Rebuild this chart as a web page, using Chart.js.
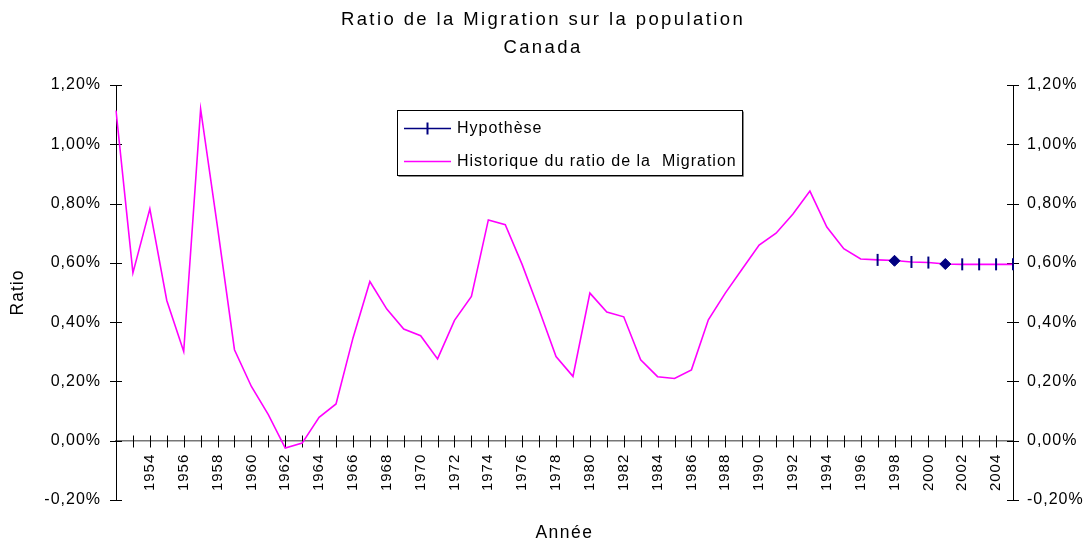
<!DOCTYPE html>
<html lang="fr">
<head>
<meta charset="utf-8">
<title>Ratio de la Migration sur la population - Canada</title>
<script src="https://cdn.jsdelivr.net/npm/chart.js@4.4.1/dist/chart.umd.min.js"></script>
<style>
  html, body { margin: 0; padding: 0; background: #fff; }
  canvas { display: block; }
</style>
</head>
<body>
<canvas id="graphMigration" width="1086" height="544"></canvas>
<script>
// annees du graphique
const annees = [
  1952, 1953, 1954, 1955, 1956, 1957, 1958, 1959, 1960, 1961,
  1962, 1963, 1964, 1965, 1966, 1967, 1968, 1969, 1970, 1971,
  1972, 1973, 1974, 1975, 1976, 1977, 1978, 1979, 1980, 1981,
  1982, 1983, 1984, 1985, 1986, 1987, 1988, 1989, 1990, 1991,
  1992, 1993, 1994, 1995, 1996, 1997, 1998, 1999, 2000, 2001,
  2002, 2003, 2004, 2005
];

// ratio historique (en %)
const historique = [
  1.114, 0.566, 0.782, 0.473, 0.301, 1.119, 0.720, 0.307, 0.183, 0.088,
  -0.025, -0.008, 0.079, 0.124, 0.346, 0.537, 0.444, 0.377, 0.354, 0.276,
  0.406, 0.487, 0.745, 0.729, 0.594, 0.442, 0.284, 0.217, 0.498, 0.434,
  0.418, 0.273, 0.216, 0.210, 0.239, 0.408, 0.498, 0.579, 0.660, 0.700,
  0.765, 0.842, 0.721, 0.648, 0.613, 0.610, 0.608, 0.603, 0.601, 0.596,
  0.595, 0.595, 0.595, 0.595
];

// hypothese (en %), a partir de 1997
const hypothese = [
  null, null, null, null, null, null, null, null, null, null,
  null, null, null, null, null, null, null, null, null, null,
  null, null, null, null, null, null, null, null, null, null,
  null, null, null, null, null, null, null, null, null, null,
  null, null, null, null, null, 0.610, 0.607, 0.603, 0.601, 0.596,
  0.595, 0.595, 0.595, 0.595
];

// points marques d'un losange
const anneesLosange = [1998, 2001];

// graduations de l'axe y
const yMin = -0.2;
const yMax = 1.2;
const yPas = 0.2;

const police = "'Liberation Sans', Arial, sans-serif";
const marine = '#000080';
const rose = '#ff00ff';

function formatPct(v) {
  if (Math.abs(v) < 1e-9) v = 0;
  return v.toFixed(2).replace('.', ',') + '%';
}

function estLosange(c) {
  return anneesLosange.includes(annees[c.dataIndex]);
}

// espacement des lettres facon Excel
const espacementTexte = {
  id: 'espacementTexte',
  beforeUpdate(chart) {
    chart.ctx.letterSpacing = '1px';
  },
  beforeDraw(chart) {
    chart.ctx.letterSpacing = '1px';
    chart.boxes.forEach(box => {
      if (box.axis || box._espace) return;
      const esp = box === chart.titleBlock ? '2.4px' : '1.5px';
      const dessin = box.draw;
      box.draw = function(area) {
        const ctx = chart.ctx;
        const avant = ctx.letterSpacing;
        ctx.letterSpacing = esp;
        dessin.call(this, area);
        ctx.letterSpacing = avant;
      };
      box._espace = true;
    });
  }
};

// petites graduations qui traversent les axes
const graduations = {
  id: 'graduations',
  beforeDatasetsDraw(chart) {
    const { ctx, scales, chartArea } = chart;
    const y0 = Math.round(scales.y.getPixelForValue(0)) + 0.5;
    ctx.save();
    ctx.strokeStyle = '#000';
    ctx.lineWidth = 1;
    ctx.beginPath();
    scales.x.ticks.forEach((t, i) => {
      const px = Math.round(scales.x.getPixelForTick(i)) + 0.5;
      ctx.moveTo(px, y0 - 6);
      ctx.lineTo(px, y0 + 6);
    });
    [[scales.y, chartArea.left], [scales.y2, chartArea.right]].forEach(([s, ax]) => {
      s.ticks.forEach((t, i) => {
        const py = Math.round(s.getPixelForTick(i)) + 0.5;
        ctx.moveTo(Math.round(ax) - 6, py);
        ctx.lineTo(Math.round(ax) + 6, py);
      });
    });
    ctx.stroke();
    ctx.restore();
  }
};

// legende encadree a l'interieur du graphique
const legendeEncadree = {
  id: 'legendeEncadree',
  afterDraw(chart) {
    const ctx = chart.ctx;
    const ds = chart.data.datasets;
    const bx = 397.5, by = 110.5, bw = 345, bh = 65;
    ctx.save();
    ctx.fillStyle = '#fff';
    ctx.fillRect(bx, by, bw, bh);
    ctx.strokeStyle = '#000';
    ctx.lineWidth = 1;
    ctx.strokeRect(bx, by, bw, bh);
    ctx.strokeStyle = '#888';
    ctx.beginPath();
    ctx.moveTo(bx + 1, by + bh + 1);
    ctx.lineTo(bx + bw + 1, by + bh + 1);
    ctx.lineTo(bx + bw + 1, by + 1);
    ctx.stroke();

    const lignes = [
      { y: 128.5, couleur: marine, marque: true, texte: ds[0].label },
      { y: 161.5, couleur: rose, marque: false, texte: ds[1].label }
    ];
    ctx.font = '16px ' + police;
    ctx.letterSpacing = '1px';
    ctx.textBaseline = 'middle';
    lignes.forEach(l => {
      ctx.strokeStyle = l.couleur;
      ctx.lineWidth = 1.5;
      ctx.beginPath();
      ctx.moveTo(404, l.y);
      ctx.lineTo(451, l.y);
      ctx.stroke();
      if (l.marque) {
        ctx.lineWidth = 2;
        ctx.beginPath();
        ctx.moveTo(427.5, l.y - 6);
        ctx.lineTo(427.5, l.y + 6);
        ctx.stroke();
      }
      ctx.fillStyle = '#000';
      ctx.fillText(l.texte, 457, l.y);
    });
    ctx.restore();
  }
};

const ctx = document.getElementById('graphMigration').getContext('2d');

const graphMigration = new Chart(ctx, {
  type: 'line',
  data: {
    labels: annees,
    datasets: [
      {
        label: 'Hypothèse',
        data: hypothese,
        order: 0,
        showLine: false,
        clip: false,
        borderColor: marine,
        backgroundColor: marine,
        pointStyle: c => estLosange(c) ? 'rectRot' : 'line',
        pointRotation: c => estLosange(c) ? 0 : 90,
        pointRadius: c => estLosange(c) ? 5.5 : 6,
        pointBorderWidth: c => estLosange(c) ? 1 : 2,
        pointBorderColor: marine,
        pointBackgroundColor: marine
      },
      {
        label: 'Historique du ratio de la  Migration',
        data: historique,
        order: 1,
        borderColor: rose,
        backgroundColor: rose,
        borderWidth: 1.6,
        pointRadius: 0,
        tension: 0
      }
    ]
  },
  options: {
    responsive: false,
    animation: false,
    devicePixelRatio: 1,
    layout: { padding: 0 },
    plugins: {
      legend: { display: false },
      tooltip: { enabled: false },
      title: {
        display: true,
        text: ['Ratio de la Migration sur la population', 'Canada'],
        color: '#000',
        font: { family: police, size: 18.5, weight: 'normal', lineHeight: 1.5 },
        padding: { top: 6.5, bottom: 23 }
      },
      subtitle: {
        display: true,
        position: 'bottom',
        fullSize: false,
        text: 'Année',
        color: '#000',
        font: { family: police, size: 17.5, weight: 'normal', lineHeight: 1.2 },
        padding: { top: 23, bottom: 0 }
      }
    },
    scales: {
      x: {
        type: 'category',
        position: { y: 0 },
        offset: false,
        grid: { display: true, drawOnChartArea: false, drawTicks: false },
        border: { display: true, color: '#777', width: 1.5 },
        ticks: {
          autoSkip: false,
          minRotation: 90,
          maxRotation: 90,
          padding: 13,
          color: '#000',
          font: { family: police, size: 15 },
          callback: function(v, i) {
            const an = annees[i];
            return (an % 2 === 0 && an !== annees[0]) ? String(an) : '';
          }
        },
        afterFit: s => { s.height = 0; }
      },
      y: {
        position: 'left',
        min: yMin,
        max: yMax,
        grid: { drawOnChartArea: false, drawTicks: false },
        border: { color: '#000', width: 1 },
        ticks: {
          stepSize: yPas,
          padding: 15,
          color: '#000',
          font: { family: police, size: 16 },
          callback: v => formatPct(v)
        },
        title: {
          display: true,
          text: 'Ratio',
          color: '#000',
          font: { family: police, size: 17.5 },
          padding: { top: 8, bottom: 0 }
        },
        afterFit: s => { s.width = 116; }
      },
      y2: {
        position: 'right',
        min: yMin,
        max: yMax,
        grid: { drawOnChartArea: false, drawTicks: false },
        border: { color: '#000', width: 1 },
        ticks: {
          stepSize: yPas,
          padding: 14,
          color: '#000',
          font: { family: police, size: 16 },
          callback: v => formatPct(v)
        },
        afterFit: s => { s.width = 73; }
      }
    }
  },
  plugins: [espacementTexte, graduations, legendeEncadree]
});
</script>
</body>
</html>
